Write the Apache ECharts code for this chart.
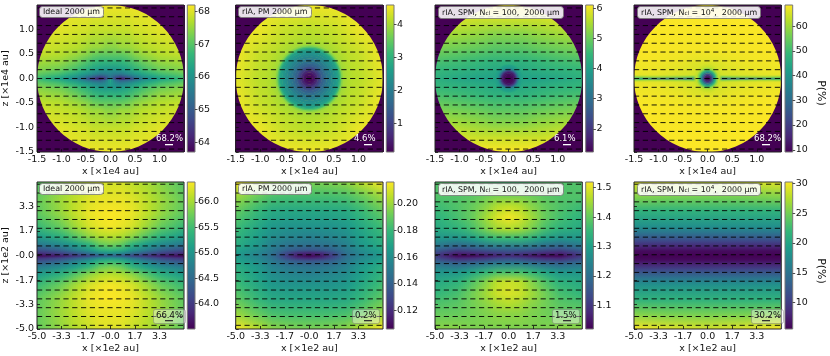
<!DOCTYPE html>
<html>
<head>
<meta charset="utf-8">
<script src="https://cdn.jsdelivr.net/npm/echarts@6/dist/echarts.min.js"></script>
<style>
  html, body { margin: 0; padding: 0; background: #fff; }
  #chart { width: 830px; height: 356px; }
</style>
</head>
<body>
<div id="chart"></div>
<script>
// values, rows go top to bottom
const viridis = ['#440154', '#482878', '#3e4989', '#31688e', '#26828e', '#1f9e89', '#35b779', '#6ece58', '#b5de2b', '#fde725'];

const topTicks = [-1.5, -1, -0.5, 0, 0.5, 1];
const topXLabels = ['-1.5', '-1.0', '-0.5', '0.0', '0.5', '1.0'];
const topZLabels = ['-1.5', '-1.0', '-0.5', '0.0', '0.5', '1.0'];
const lowTicks = [-5, -3.33, -1.67, 0, 1.67, 3.33];
const lowXLabels = ['-5.0', '-3.3', '-1.7', '-0.0', '1.7', '3.3'];
const lowXLabels2 = ['-5.0', '-3.3', '-1.7', '0.0', '1.7', '3.3'];
const lowZLabels = ['-5.0', '-3.3', '-1.7', '-0.0', '1.7', '3.3'];

// rows of polarisation dashes
const topDashRows = [1.44, 1.26, 1.08, 0.9, 0.72, 0.54, 0.36, 0.18, 0, -0.18, -0.36, -0.54, -0.72, -0.9, -1.08, -1.26, -1.44];
const lowDashRows = [4.85, 4.25, 3.65, 3.05, 2.45, 1.85, 1.25, 0.65, 0.05, -0.55, -1.15, -1.75, -2.35, -2.95, -3.55, -4.15, -4.75];

const p1X = [-1.5, -1, -0.65, -0.5, -0.35, -0.2, -0.1, 0, 0.1, 0.2, 0.35, 0.5, 0.65, 1, 1.5];
const p1Z = [1.5, 1, 0.65, 0.5, 0.35, 0.2, 0.1, 0.04, 0, -0.04, -0.1, -0.2, -0.35, -0.5, -0.65, -1, -1.5];
const p1Values = [
  [68.1, 68.1, 68.1, 68.1, 68.1, 68.1, 68.1, 68.1, 68.1, 68.1, 68.1, 68.1, 68.1, 68.1, 68.1],
  [68.0, 68.0, 67.9, 67.9, 67.8, 67.8, 67.8, 67.8, 67.8, 67.8, 67.8, 67.9, 67.9, 68.0, 68.0],
  [67.9, 67.8, 67.7, 67.6, 67.5, 67.5, 67.4, 67.4, 67.4, 67.5, 67.5, 67.6, 67.7, 67.8, 67.9],
  [67.8, 67.7, 67.5, 67.4, 67.2, 67.1, 67.1, 67.1, 67.1, 67.1, 67.2, 67.4, 67.5, 67.7, 67.8],
  [67.6, 67.5, 67.2, 67.0, 66.8, 66.7, 66.7, 66.7, 66.7, 66.7, 66.8, 67.0, 67.2, 67.5, 67.6],
  [67.4, 67.2, 66.8, 66.6, 66.3, 66.2, 66.1, 66.1, 66.1, 66.2, 66.3, 66.6, 66.8, 67.2, 67.4],
  [67.1, 66.8, 66.3, 66.1, 65.8, 65.5, 65.6, 65.7, 65.6, 65.5, 65.8, 66.1, 66.3, 66.8, 67.1],
  [66.9, 66.4, 65.9, 65.5, 65.0, 64.6, 64.9, 65.4, 64.9, 64.6, 65.0, 65.5, 65.9, 66.4, 66.9],
  [66.7, 66.2, 65.5, 65.0, 64.3, 63.8, 64.4, 65.9, 64.4, 63.8, 64.3, 65.0, 65.5, 66.2, 66.7],
  [66.9, 66.4, 65.9, 65.5, 65.1, 65.0, 65.4, 66.3, 65.4, 65.0, 65.1, 65.5, 65.9, 66.4, 66.9],
  [67.1, 66.8, 66.3, 66.1, 65.8, 65.6, 65.8, 66.2, 65.8, 65.6, 65.8, 66.1, 66.3, 66.8, 67.1],
  [67.4, 67.2, 66.8, 66.6, 66.3, 66.2, 66.1, 66.2, 66.1, 66.2, 66.3, 66.6, 66.8, 67.2, 67.4],
  [67.6, 67.5, 67.2, 67.0, 66.8, 66.7, 66.7, 66.7, 66.7, 66.7, 66.8, 67.0, 67.2, 67.5, 67.6],
  [67.8, 67.7, 67.5, 67.4, 67.2, 67.1, 67.1, 67.1, 67.1, 67.1, 67.2, 67.4, 67.5, 67.7, 67.8],
  [67.9, 67.8, 67.7, 67.6, 67.5, 67.5, 67.4, 67.4, 67.4, 67.5, 67.5, 67.6, 67.7, 67.8, 67.9],
  [68.0, 68.0, 67.9, 67.9, 67.8, 67.8, 67.8, 67.8, 67.8, 67.8, 67.8, 67.9, 67.9, 68.0, 68.0],
  [68.1, 68.1, 68.1, 68.1, 68.1, 68.1, 68.1, 68.1, 68.1, 68.1, 68.1, 68.1, 68.1, 68.1, 68.1]
];

// panel 2 background, its round dip is the radial profile below
const p2X = [-1.5, -1, -0.5, 0, 0.5, 1, 1.5];
const p2Z = [1.5, 1, 0.5, 0, -0.5, -1, -1.5];
const p2Values = [
  [4.5, 4.5, 4.5, 4.5, 4.5, 4.5, 4.5],
  [4.5, 4.45, 4.2, 4.1, 4.2, 4.45, 4.5],
  [4.5, 4.2, 4.05, 4.05, 4.05, 4.2, 4.5],
  [4.4, 4.1, 4.05, 4.05, 4.05, 4.1, 4.4],
  [4.5, 4.2, 4.05, 4.05, 4.05, 4.2, 4.5],
  [4.5, 4.45, 4.2, 4.1, 4.2, 4.45, 4.5],
  [4.5, 4.5, 4.5, 4.5, 4.5, 4.5, 4.5]
];
const p2CoreR = [0, 0.06, 0.12, 0.17, 0.25, 0.3, 0.35, 0.4, 0.45, 0.5, 0.55, 0.6, 0.63, 0.66, 0.7, 0.75, 0.8, 0.9];
const p2CoreV = [0.15, 0.2, 0.45, 0.8, 1.4, 1.6, 1.85, 2.0, 2.2, 2.35, 2.5, 2.75, 3.2, 3.7, 3.95, 4.0, 4.05, null];

const p3X = [-1.5, -1, -0.6, -0.3, 0, 0.3, 0.6, 1, 1.5];
const p3Z = [1.5, 1.2, 0.9, 0.6, 0.35, 0.2, 0.1, 0, -0.1, -0.2, -0.35, -0.6, -0.9, -1.2, -1.5];
const p3Values = [
  [6.1, 6.1, 6.1, 6.1, 6.1, 6.1, 6.1, 6.1, 6.1],
  [5.9, 5.8, 5.7, 5.7, 5.7, 5.7, 5.7, 5.8, 5.9],
  [5.5, 5.4, 5.3, 5.2, 5.2, 5.2, 5.3, 5.4, 5.5],
  [5.1, 5.0, 4.9, 4.8, 4.8, 4.8, 4.9, 5.0, 5.1],
  [4.7, 4.6, 4.5, 4.4, 4.4, 4.4, 4.5, 4.6, 4.7],
  [4.5, 4.4, 4.3, 4.2, 4.15, 4.2, 4.3, 4.4, 4.5],
  [4.4, 4.25, 4.15, 4.1, 4.05, 4.1, 4.15, 4.25, 4.4],
  [4.3, 4.1, 4.0, 4.0, 4.0, 4.0, 4.0, 4.1, 4.3],
  [4.4, 4.25, 4.15, 4.1, 4.05, 4.1, 4.15, 4.25, 4.4],
  [4.5, 4.4, 4.3, 4.2, 4.15, 4.2, 4.3, 4.4, 4.5],
  [4.7, 4.6, 4.5, 4.4, 4.4, 4.4, 4.5, 4.6, 4.7],
  [5.1, 5.0, 4.9, 4.8, 4.8, 4.8, 4.9, 5.0, 5.1],
  [5.5, 5.4, 5.3, 5.2, 5.2, 5.2, 5.3, 5.4, 5.5],
  [5.9, 5.8, 5.7, 5.7, 5.7, 5.7, 5.7, 5.8, 5.9],
  [6.1, 6.1, 6.1, 6.1, 6.1, 6.1, 6.1, 6.1, 6.1]
];
const p3CoreR = [0, 0.07, 0.1, 0.13, 0.15, 0.17, 0.19, 0.22, 0.26, 0.3];
const p3CoreV = [1.25, 1.3, 1.4, 1.6, 2.0, 2.6, 3.2, 3.8, 4.0, null];

const p4X = [-1.5, -1.2, -1, -0.5, -0.25, 0, 0.25, 0.5, 1, 1.2, 1.5];
const p4Z = [1.5, 0.6, 0.4, 0.3, 0.15, 0.07, 0.03, 0, -0.03, -0.07, -0.15, -0.3, -0.4, -0.6, -1.5];
const p4Values = [
  [68.4, 68.4, 68.4, 68.4, 68.4, 68.4, 68.4, 68.4, 68.4, 68.4, 68.4],
  [68.2, 68.2, 68.0, 67.8, 67.8, 67.8, 67.8, 67.8, 68.0, 68.2, 68.2],
  [67.8, 67.8, 67.6, 67.0, 66.5, 66.5, 66.5, 67.0, 67.6, 67.8, 67.8],
  [67.5, 67.4, 67.2, 66.5, 65.5, 65.0, 65.5, 66.5, 67.2, 67.4, 67.5],
  [67.0, 66.9, 66.7, 65.5, 65.0, 64.5, 65.0, 65.5, 66.7, 66.9, 67.0],
  [66.5, 66.2, 66.0, 65.0, 64.5, 64.0, 64.5, 65.0, 66.0, 66.2, 66.5],
  [58.0, 60.0, 60.0, 58.0, 55.0, 50.0, 55.0, 58.0, 60.0, 60.0, 58.0],
  [45.0, 34.0, 28.0, 27.0, 27.0, 27.0, 27.0, 27.0, 28.0, 34.0, 45.0],
  [58.0, 60.0, 60.0, 58.0, 55.0, 50.0, 55.0, 58.0, 60.0, 60.0, 58.0],
  [66.5, 66.2, 66.0, 65.0, 64.5, 64.0, 64.5, 65.0, 66.0, 66.2, 66.5],
  [67.0, 66.9, 66.7, 65.5, 65.0, 64.5, 65.0, 65.5, 66.7, 66.9, 67.0],
  [67.5, 67.4, 67.2, 66.5, 65.5, 65.0, 65.5, 66.5, 67.2, 67.4, 67.5],
  [67.8, 67.8, 67.6, 67.0, 66.5, 66.5, 66.5, 67.0, 67.6, 67.8, 67.8],
  [68.2, 68.2, 68.0, 67.8, 67.8, 67.8, 67.8, 67.8, 68.0, 68.2, 68.2],
  [68.4, 68.4, 68.4, 68.4, 68.4, 68.4, 68.4, 68.4, 68.4, 68.4, 68.4]
];
const p4CoreR = [0, 0.04, 0.07, 0.1, 0.13, 0.16, 0.19, 0.23, 0.3];
const p4CoreV = [9.5, 11, 18, 27, 38, 48, 57, 63, null];

const p5X = [-5, -3.5, -2.5, -1.5, -0.75, 0, 0.75, 1.5, 2.5, 3.5, 5];
const p5Z = [5, 3.8, 2.8, 2, 1.3, 0.8, 0.4, 0.15, 0, -0.15, -0.4, -0.8, -1.3, -2, -2.8, -3.8, -5];
const p5Values = [
  [65.6, 65.85, 66.0, 66.1, 66.2, 66.2, 66.2, 66.1, 66.0, 65.85, 65.6],
  [65.7, 65.95, 66.1, 66.25, 66.3, 66.3, 66.3, 66.25, 66.1, 65.95, 65.7],
  [65.65, 65.9, 66.1, 66.3, 66.35, 66.38, 66.35, 66.3, 66.1, 65.9, 65.65],
  [65.45, 65.7, 65.95, 66.2, 66.3, 66.35, 66.3, 66.2, 65.95, 65.7, 65.45],
  [65.1, 65.35, 65.6, 65.9, 66.05, 66.1, 66.05, 65.9, 65.6, 65.35, 65.1],
  [64.7, 64.9, 65.1, 65.4, 65.7, 65.8, 65.7, 65.4, 65.1, 64.9, 64.7],
  [64.2, 64.4, 64.7, 65.0, 65.3, 65.4, 65.3, 65.0, 64.7, 64.4, 64.2],
  [63.9, 64.1, 64.3, 64.6, 64.9, 65.0, 64.9, 64.6, 64.3, 64.1, 63.9],
  [63.55, 63.7, 63.9, 64.1, 64.3, 64.4, 64.3, 64.1, 63.9, 63.7, 63.55],
  [63.9, 64.1, 64.3, 64.6, 64.9, 65.0, 64.9, 64.6, 64.3, 64.1, 63.9],
  [64.2, 64.4, 64.7, 65.0, 65.3, 65.4, 65.3, 65.0, 64.7, 64.4, 64.2],
  [64.7, 64.9, 65.1, 65.4, 65.7, 65.8, 65.7, 65.4, 65.1, 64.9, 64.7],
  [65.1, 65.35, 65.6, 65.9, 66.05, 66.1, 66.05, 65.9, 65.6, 65.35, 65.1],
  [65.45, 65.7, 65.95, 66.2, 66.3, 66.35, 66.3, 66.2, 65.95, 65.7, 65.45],
  [65.65, 65.9, 66.1, 66.3, 66.35, 66.38, 66.35, 66.3, 66.1, 65.9, 65.65],
  [65.7, 65.95, 66.1, 66.25, 66.3, 66.3, 66.3, 66.25, 66.1, 65.95, 65.7],
  [65.7, 65.9, 66.05, 66.15, 66.25, 66.25, 66.25, 66.15, 66.05, 65.9, 65.7]
];

const p6X = [-5, -3.5, -2.5, -1.5, -0.75, 0, 0.75, 1.5, 2.5, 3.5, 5];
const p6Z = [5, 4, 3, 2, 1.3, 0.8, 0.4, 0.15, 0, -0.15, -0.4, -0.8, -1.3, -2, -3, -4, -5];
const p6Values = [
  [0.216, 0.205, 0.197, 0.195, 0.194, 0.194, 0.194, 0.195, 0.197, 0.205, 0.216],
  [0.200, 0.190, 0.184, 0.183, 0.183, 0.183, 0.183, 0.183, 0.184, 0.190, 0.200],
  [0.190, 0.180, 0.173, 0.172, 0.172, 0.172, 0.172, 0.172, 0.173, 0.180, 0.190],
  [0.183, 0.172, 0.165, 0.163, 0.163, 0.163, 0.163, 0.163, 0.165, 0.172, 0.183],
  [0.178, 0.168, 0.160, 0.157, 0.156, 0.155, 0.156, 0.157, 0.160, 0.168, 0.178],
  [0.175, 0.165, 0.155, 0.150, 0.149, 0.148, 0.149, 0.150, 0.155, 0.165, 0.175],
  [0.170, 0.160, 0.150, 0.140, 0.137, 0.135, 0.137, 0.140, 0.150, 0.160, 0.170],
  [0.167, 0.157, 0.147, 0.130, 0.120, 0.117, 0.120, 0.130, 0.147, 0.157, 0.167],
  [0.165, 0.155, 0.145, 0.125, 0.112, 0.107, 0.112, 0.125, 0.145, 0.155, 0.165],
  [0.167, 0.157, 0.147, 0.130, 0.120, 0.117, 0.120, 0.130, 0.147, 0.157, 0.167],
  [0.170, 0.160, 0.150, 0.140, 0.137, 0.135, 0.137, 0.140, 0.150, 0.160, 0.170],
  [0.175, 0.165, 0.155, 0.150, 0.149, 0.148, 0.149, 0.150, 0.155, 0.165, 0.175],
  [0.178, 0.168, 0.160, 0.157, 0.156, 0.155, 0.156, 0.157, 0.160, 0.168, 0.178],
  [0.183, 0.172, 0.165, 0.163, 0.163, 0.163, 0.163, 0.163, 0.165, 0.172, 0.183],
  [0.190, 0.180, 0.173, 0.172, 0.172, 0.172, 0.172, 0.172, 0.173, 0.180, 0.190],
  [0.200, 0.190, 0.184, 0.183, 0.183, 0.183, 0.183, 0.183, 0.184, 0.190, 0.200],
  [0.216, 0.205, 0.197, 0.195, 0.194, 0.194, 0.194, 0.195, 0.197, 0.205, 0.216]
];

const p7X = [-5, -3.5, -2.5, -1.5, -0.75, 0, 0.75, 1.5, 2.5, 3.5, 5];
const p7Z = [5, 4, 3.4, 2.6, 1.8, 1.1, 0.5, 0.2, 0, -0.2, -0.5, -1.1, -1.8, -2.6, -3.4, -4, -5];
const p7Values = [
  [1.38, 1.38, 1.38, 1.37, 1.36, 1.36, 1.36, 1.37, 1.38, 1.38, 1.38],
  [1.38, 1.38, 1.39, 1.41, 1.42, 1.42, 1.42, 1.41, 1.39, 1.38, 1.38],
  [1.36, 1.38, 1.40, 1.43, 1.46, 1.47, 1.46, 1.43, 1.40, 1.38, 1.36],
  [1.34, 1.37, 1.40, 1.45, 1.49, 1.51, 1.49, 1.45, 1.40, 1.37, 1.34],
  [1.32, 1.34, 1.37, 1.42, 1.45, 1.46, 1.45, 1.42, 1.37, 1.34, 1.32],
  [1.28, 1.27, 1.29, 1.33, 1.35, 1.35, 1.35, 1.33, 1.29, 1.27, 1.28],
  [1.20, 1.16, 1.17, 1.19, 1.20, 1.20, 1.20, 1.19, 1.17, 1.16, 1.20],
  [1.13, 1.07, 1.08, 1.10, 1.11, 1.12, 1.11, 1.10, 1.08, 1.07, 1.13],
  [1.11, 1.03, 1.03, 1.05, 1.07, 1.08, 1.07, 1.05, 1.03, 1.03, 1.11],
  [1.13, 1.07, 1.08, 1.10, 1.12, 1.13, 1.12, 1.10, 1.08, 1.07, 1.13],
  [1.20, 1.17, 1.18, 1.20, 1.22, 1.22, 1.22, 1.20, 1.18, 1.17, 1.20],
  [1.28, 1.28, 1.31, 1.35, 1.37, 1.37, 1.37, 1.35, 1.31, 1.28, 1.28],
  [1.32, 1.34, 1.38, 1.43, 1.47, 1.48, 1.47, 1.43, 1.38, 1.34, 1.32],
  [1.35, 1.37, 1.41, 1.45, 1.48, 1.49, 1.48, 1.45, 1.41, 1.37, 1.35],
  [1.38, 1.39, 1.41, 1.43, 1.45, 1.46, 1.45, 1.43, 1.41, 1.39, 1.38],
  [1.40, 1.40, 1.41, 1.42, 1.43, 1.43, 1.43, 1.42, 1.41, 1.40, 1.40],
  [1.43, 1.43, 1.42, 1.42, 1.42, 1.42, 1.42, 1.42, 1.42, 1.43, 1.43]
];

const p8X = [-5, -2.5, 0, 2.5, 5];
const p8Z = [5, 4, 3, 2, 1.5, 1, 0.6, 0.3, 0, -0.3, -0.6, -1, -1.5, -2, -3, -4, -5];
const p8Values = [
  [29.0, 28.5, 28.0, 28.5, 29.0],
  [25.5, 25.0, 25.0, 25.0, 25.5],
  [21.5, 21.5, 21.5, 21.5, 21.5],
  [18.0, 18.0, 18.0, 18.0, 18.0],
  [15.0, 15.0, 15.0, 15.0, 15.0],
  [11.0, 11.0, 11.0, 11.0, 11.0],
  [8.0, 8.0, 8.0, 8.0, 8.0],
  [6.3, 6.3, 6.3, 6.3, 6.3],
  [5.7, 5.7, 5.7, 5.7, 5.7],
  [6.3, 6.3, 6.3, 6.3, 6.3],
  [8.0, 8.0, 8.0, 8.0, 8.0],
  [11.0, 11.0, 11.0, 11.0, 11.0],
  [15.0, 15.0, 15.0, 15.0, 15.0],
  [18.0, 18.0, 18.0, 18.0, 18.0],
  [21.5, 21.5, 21.5, 21.5, 21.5],
  [25.5, 25.0, 25.0, 25.0, 25.5],
  [30.0, 29.0, 28.5, 29.0, 30.0]
];

const cbTicks1 = [64, 65, 66, 67, 68];
const cbTicks2 = [1, 2, 3, 4];
const cbTicks3 = [2, 3, 4, 5, 6];
const cbTicks4 = [10, 20, 30, 40, 50, 60];
const cbTicks5 = [64, 64.5, 65, 65.5, 66];
const cbTicks6 = [0.12, 0.14, 0.16, 0.18, 0.20];
const cbTicks7 = [1.1, 1.2, 1.3, 1.4, 1.5];
const cbTicks8 = [10, 15, 20, 25, 30];

const FONT = 'DejaVu Sans';
const W = 147.3, H = 147;

const panels = [
  { x: p1X, z: p1Z, values: p1Values, min: 63.7, max: 68.2, ticks: cbTicks1, digits: 0, left: 36.7, cb: 187.3, top: 5, disc: 1.5, label: 39, title: '{t|Ideal 2000 µm}', pct: '68.2%', pctLeft: 156, keyLeft: 165 },
  { x: p2X, z: p2Z, values: p2Values, coreR: p2CoreR, coreV: p2CoreV, min: 0.13, max: 4.58, ticks: cbTicks2, digits: 0, left: 235.7, cb: 386.3, top: 5, disc: 1.5, label: 238, title: '{t|rIA, PM 2000 µm}', pct: '4.6%', pctLeft: 354, keyLeft: 364 },
  { x: p3X, z: p3Z, values: p3Values, coreR: p3CoreR, coreV: p3CoreV, min: 1.23, max: 6.11, ticks: cbTicks3, digits: 0, left: 435, cb: 585.7, top: 5, disc: 1.5, label: 438, title: '{t|rIA, SPM, N}{s|cl}{t| = 100,  2000 µm}', pct: '6.1%', pctLeft: 554, keyLeft: 563 },
  { x: p4X, z: p4Z, values: p4Values, coreR: p4CoreR, coreV: p4CoreV, min: 9.1, max: 68.5, ticks: cbTicks4, digits: 0, left: 634, cb: 785, top: 5, disc: 1.5, label: 637, title: '{t|rIA, SPM, N}{s|cl}{t| = 10}{u|4}{t|,  2000 µm}', pct: '68.2%', pctLeft: 754, keyLeft: 762, unitY: 93 },
  { x: p5X, z: p5Z, values: p5Values, min: 63.5, max: 66.39, ticks: cbTicks5, digits: 1, left: 36.7, cb: 187.3, top: 182, label: 39, title: '{t|Ideal 2000 µm}', pct: '66.4%', pctLeft: 153, keyLeft: 165, xl: lowXLabels },
  { x: p6X, z: p6Z, values: p6Values, min: 0.1058, max: 0.2166, ticks: cbTicks6, digits: 2, left: 235.7, cb: 386.3, top: 182, label: 238, title: '{t|rIA, PM 2000 µm}', pct: '0.2%', pctLeft: 352, keyLeft: 364, xl: lowXLabels },
  { x: p7X, z: p7Z, values: p7Values, min: 1.02, max: 1.519, ticks: cbTicks7, digits: 1, left: 435, cb: 585.7, top: 182, label: 438, title: '{t|rIA, SPM, N}{s|cl}{t| = 100,  2000 µm}', pct: '1.5%', pctLeft: 552, keyLeft: 563, xl: lowXLabels2 },
  { x: p8X, z: p8Z, values: p8Values, min: 5.6, max: 30.2, ticks: cbTicks8, digits: 0, left: 634, cb: 785, top: 182, label: 637, title: '{t|rIA, SPM, N}{s|cl}{t| = 10}{u|4}{t|,  2000 µm}', pct: '30.2%', pctLeft: 751, keyLeft: 762, xl: lowXLabels2, unitY: 271 }
];

function colorOf(p, v) {
  const t = Math.max(0, Math.min(1, (v - p.min) / (p.max - p.min)));
  return echarts.color.lerp(t, viridis);
}

// one element group per grid cell, shaded from its corner values like a gouraud mesh
function fieldRender(p) {
  const nx = p.x.length, nz = p.z.length;
  return function (params, api) {
    const r = Math.floor(params.dataIndex / nx), c = params.dataIndex % nx;
    if (r === nz - 1 || c === nx - 1) return null;
    const a = api.coord([p.x[c], p.z[r]]);
    const b = api.coord([p.x[c + 1], p.z[r + 1]]);
    const x0 = Math.round(a[0]), x1 = Math.round(b[0]), y0 = Math.round(a[1]), y1 = Math.round(b[1]);
    const children = [];
    for (let sx = x0; sx < x1; sx += 2) {
      const t = (Math.min(sx + 1, x1) - a[0]) / (b[0] - a[0]);
      const top = p.values[r][c] + (p.values[r][c + 1] - p.values[r][c]) * t;
      const bot = p.values[r + 1][c] + (p.values[r + 1][c + 1] - p.values[r + 1][c]) * t;
      children.push({
        type: 'rect',
        shape: { x: sx, y: y0, width: Math.min(2, x1 - sx), height: y1 - y0 },
        style: {
          fill: new echarts.graphic.LinearGradient(0, 0, 0, 1, [
            { offset: 0, color: colorOf(p, top) },
            { offset: 1, color: colorOf(p, bot) }
          ])
        }
      });
    }
    return { type: 'group', children: children };
  };
}

// rings around the origin, for the radial profile of the round dips
function coreRender(p) {
  return function (params, api) {
    const k = params.dataIndex;
    if (k === p.coreR.length - 1) return null;
    const c = api.coord([0, 0]);
    const unit = api.coord([1, 0])[0] - c[0];
    const r0 = p.coreR[k] * unit, r1 = p.coreR[k + 1] * unit;
    const c0 = colorOf(p, p.coreV[k]);
    const c1 = p.coreV[k + 1] === null ? echarts.color.modifyAlpha(c0, 0) : colorOf(p, p.coreV[k + 1]);
    const last = p.coreV[k + 1] === null;
    return {
      type: 'ring',
      shape: { cx: c[0], cy: c[1], r: last ? r1 : r1 + 0.4, r0: r0 },
      style: {
        fill: new echarts.graphic.RadialGradient(c[0], c[1], r1, [
          { offset: r0 / r1, color: c0 },
          { offset: 1, color: c1 }
        ], true)
      }
    };
  };
}

const grids = [], xAxes = [], yAxes = [], series = [], titles = [], extras = [];

panels.forEach(function (p, i) {
  const isTop = i < 4;
  const low = isTop ? -1.5 : -5, high = -low;
  const ticks = isTop ? topTicks : lowTicks;
  const xLabels = isTop ? topXLabels : p.xl;
  const zLabels = isTop ? topZLabels : lowZLabels;
  const g = grids.length;
  const first = i % 4 === 0;

  grids.push({ left: p.left, top: p.top, width: W, height: H, show: false });
  xAxes.push({
    gridIndex: g, type: 'value', min: low, max: high, z: 10,
    name: isTop ? 'x [×1e4 au]' : 'x [×1e2 au]', nameLocation: 'middle', nameGap: 15,
    nameTextStyle: { fontFamily: FONT, fontSize: 9.5, color: '#111' },
    splitLine: { show: false },
    axisLine: { show: false, onZero: false },
    axisTick: { inside: true, length: 3, customValues: ticks, lineStyle: { color: '#111', width: 0.8 } },
    axisLabel: {
      customValues: ticks, margin: 3, fontFamily: FONT, fontSize: 9.5, color: '#111', hideOverlap: false,
      formatter: function (v) { return xLabels[ticks.indexOf(v)]; }
    }
  });
  yAxes.push({
    gridIndex: g, type: 'value', min: low, max: high, z: 10,
    name: first ? (isTop ? 'z [×1e4 au]' : 'z [×1e2 au]') : '', nameLocation: 'middle', nameGap: 26,
    nameTextStyle: { fontFamily: FONT, fontSize: 9.5, color: '#111' },
    splitLine: { show: false },
    axisLine: { show: false, onZero: false },
    axisTick: { inside: true, length: 3, customValues: ticks, lineStyle: { color: '#111', width: 0.8 } },
    axisLabel: {
      show: first, customValues: ticks, margin: 3, fontFamily: FONT, fontSize: 9.5, color: '#111', hideOverlap: false,
      formatter: function (v) { return zLabels[ticks.indexOf(v)]; }
    }
  });

  // field cells
  const cells = [];
  p.z.forEach(function (zv, r) {
    p.x.forEach(function (xv, c) { cells.push([xv, zv, p.values[r][c]]); });
  });
  series.push({
    type: 'custom', xAxisIndex: g, yAxisIndex: g, z: 2, silent: true, clip: true,
    encode: { x: 0, y: 1 }, data: cells, renderItem: fieldRender(p)
  });

  if (p.coreR) {
    series.push({
      type: 'custom', xAxisIndex: g, yAxisIndex: g, z: 2, silent: true, clip: true,
      encode: { x: 0, y: 1 },
      data: p.coreR.map(function (r) { return [r, 0]; }),
      renderItem: coreRender(p)
    });
  }

  // top row: everything outside the disc sits at the colour map minimum
  if (p.disc) {
    series.push({
      type: 'custom', xAxisIndex: g, yAxisIndex: g, z: 3, silent: true, clip: true,
      encode: { x: 0, y: 1 }, data: [[0, 0]],
      renderItem: function (params, api) {
        const c = api.coord([0, 0]);
        const rad = api.coord([p.disc, 0])[0] - c[0];
        return {
          type: 'ring',
          shape: { cx: c[0], cy: c[1], r: rad * 2, r0: rad },
          style: { fill: viridis[0] }
        };
      }
    });
  }

  // dashes
  (isTop ? topDashRows : lowDashRows).forEach(function (zv) {
    series.push({
      type: 'line', xAxisIndex: g, yAxisIndex: g, z: 4, silent: true, showSymbol: false,
      data: [[low, zv], [high, zv]],
      lineStyle: { color: '#000', width: 0.9, type: [5.2, 3.6] }
    });
  });

  // frame
  series.push({
    type: 'custom', xAxisIndex: g, yAxisIndex: g, z: 5, silent: true,
    encode: { x: 0, y: 1 }, data: [[low, high]],
    renderItem: function (params, api) {
      const a = api.coord([low, high]), b = api.coord([high, low]);
      return {
        type: 'rect',
        shape: { x: a[0], y: a[1], width: b[0] - a[0], height: b[1] - a[1] },
        style: { fill: 'none', stroke: '#222', lineWidth: 1 }
      };
    }
  });

  // colour bar
  const cg = grids.length;
  grids.push({ left: p.cb, top: p.top, width: 7.7, height: H, show: false });
  xAxes.push({ gridIndex: cg, type: 'value', min: 0, max: 1, show: false });
  yAxes.push({
    gridIndex: cg, type: 'value', position: 'right', min: p.min, max: p.max, z: 10,
    splitLine: { show: false },
    axisLine: { show: false, onZero: false },
    axisTick: { length: 2.5, customValues: p.ticks, lineStyle: { color: '#222', width: 0.8 } },
    axisLabel: {
      customValues: p.ticks, margin: 3, fontFamily: FONT, fontSize: 9.5, color: '#111', hideOverlap: false,
      formatter: function (v) { return v.toFixed(p.digits); }
    }
  });
  series.push({
    type: 'custom', xAxisIndex: cg, yAxisIndex: cg, z: 2, silent: true,
    encode: { x: 0, y: 1 }, data: [[0, p.max]],
    renderItem: function (params, api) {
      const a = api.coord([0, p.max]), b = api.coord([1, p.min]);
      const stops = viridis.map(function (col, k) {
        return { offset: 1 - k / (viridis.length - 1), color: col };
      }).reverse();
      return {
        type: 'rect',
        shape: { x: a[0], y: a[1], width: b[0] - a[0], height: b[1] - a[1] },
        style: { fill: new echarts.graphic.LinearGradient(0, 0, 0, 1, stops), stroke: '#777', lineWidth: 1 }
      };
    }
  });

  // panel label
  titles.push({
    text: p.title, left: p.label, top: p.top + 1, z: 20, padding: [2, 4, 2, 4],
    backgroundColor: 'rgba(255,255,255,0.88)', borderColor: '#777', borderWidth: 0.8, borderRadius: 3,
    textStyle: {
      fontWeight: 'normal',
      rich: {
        t: { fontFamily: FONT, fontSize: 7.9, fontWeight: 'normal', color: '#111' },
        s: { fontFamily: FONT, fontSize: 5.6, fontWeight: 'normal', color: '#111', verticalAlign: 'bottom', lineHeight: 9 },
        u: { fontFamily: FONT, fontSize: 5.6, fontWeight: 'normal', color: '#111', verticalAlign: 'top', lineHeight: 9 }
      }
    }
  });

  // percentage and its key segment
  titles.push({
    text: p.pct, left: p.pctLeft, top: isTop ? 134 : 309, z: 20,
    padding: isTop ? 0 : [2, 3, 4, 3],
    backgroundColor: isTop ? 'transparent' : 'rgba(255,255,255,0.4)',
    borderColor: isTop ? 'transparent' : 'rgba(120,120,120,0.6)',
    borderWidth: isTop ? 0 : 0.8, borderRadius: 2,
    textStyle: { fontFamily: FONT, fontSize: 8.5, fontWeight: 'normal', color: isTop ? '#fff' : '#111' }
  });
  extras.push({
    type: 'rect', z: 30,
    shape: { x: p.keyLeft, y: isTop ? 144 : 320, width: 8, height: 1.3 },
    style: { fill: isTop ? '#fff' : '#333' }
  });

  if (p.unitY) {
    extras.push({
      type: 'text', z: 30, x: 821, y: p.unitY, rotation: -Math.PI / 2,
      style: { text: 'P(%)', fontFamily: FONT, fontSize: 11, fill: '#111', textAlign: 'center', textVerticalAlign: 'middle' }
    });
  }
});

const chart = echarts.init(document.getElementById('chart'), null, { renderer: 'canvas' });
chart.setOption({
  animation: false,
  backgroundColor: '#fff',
  title: titles,
  grid: grids,
  xAxis: xAxes,
  yAxis: yAxes,
  series: series,
  graphic: { elements: extras }
});
</script>
</body>
</html>
